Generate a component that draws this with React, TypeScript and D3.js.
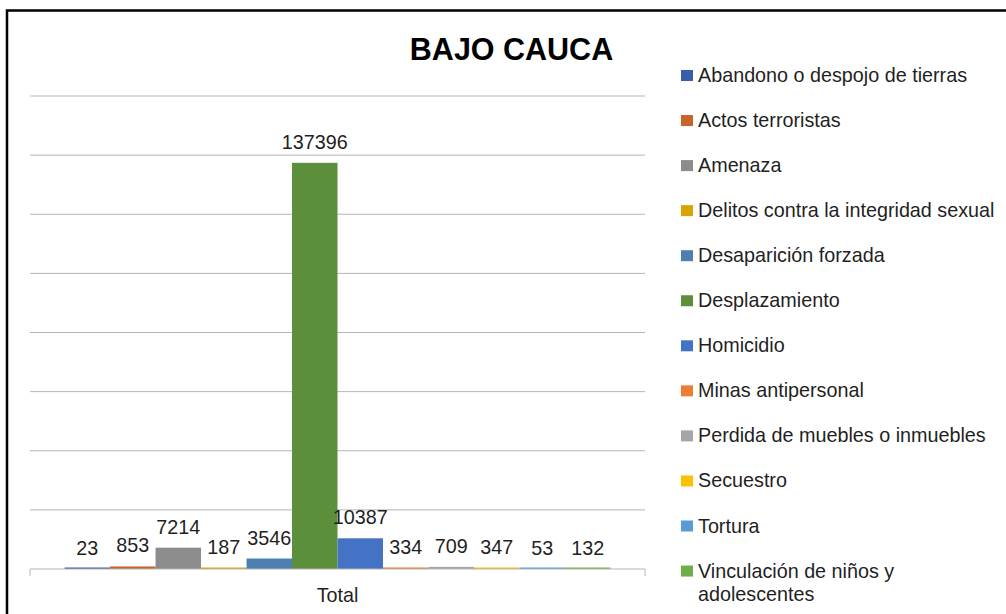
import React from "react";
import * as d3 from "d3";

// data
const categories = ["Total"];
const seriesNames = [
  "Abandono o despojo de tierras",
  "Actos terroristas",
  "Amenaza",
  "Delitos contra la integridad sexual",
  "Desaparición forzada",
  "Desplazamiento",
  "Homicidio",
  "Minas antipersonal",
  "Perdida de muebles o inmuebles",
  "Secuestro",
  "Tortura",
  "Vinculación de niños y adolescentes",
];
const values = [23, 853, 7214, 187, 3546, 137396, 10387, 334, 709, 347, 53, 132];
const colors = [
  "#3a5fa8",
  "#c8642a",
  "#8c8c8c",
  "#d9a300",
  "#4d80b0",
  "#5b8f3b",
  "#4472c4",
  "#ed7d31",
  "#a5a5a5",
  "#ffc000",
  "#5b9bd5",
  "#70ad47",
];
const gridTicks = [20000, 40000, 60000, 80000, 100000, 120000, 140000, 160000];

const W = 1006;
const H = 614;
const font = "'Liberation Sans', Arial, sans-serif";
const fs = 19.75;

const App = () => {
  // scales
  const x0 = d3.scaleBand().domain(categories).range([30, 645]);
  const x1 = d3
    .scaleBand()
    .domain(seriesNames)
    .range([0, x0.bandwidth()])
    .paddingOuter(0.76);
  const y = d3.scaleLinear().domain([0, 160000]).range([569, 96]);

  const legendY = (i) => 75.5 + i * 45.05;

  return (
    <svg
      width={W}
      height={H}
      style={{ position: "absolute", left: 0, top: 0, background: "#fff" }}
      fontFamily={font}
    >
      <rect x={0} y={0} width={W} height={H} fill="#fff" />
      <rect x={7} y={10.5} width={1010} height={620} fill="none" stroke="#000" strokeWidth={2.5} />

      {/* title */}
      <text x={511.5} y={60} textAnchor="middle" fontSize={30.5} fontWeight="bold" fill="#000">
        BAJO CAUCA
      </text>

      {/* gridlines */}
      {gridTicks.map((t) => (
        <line key={t} x1={30} x2={645} y1={y(t)} y2={y(t)} stroke="#b5b5b5" strokeWidth={1} />
      ))}

      {/* bars (tiny values still get a 1px sliver, like Excel draws them) */}
      {categories.map((c) => (
        <g key={c} transform={`translate(${x0(c)},0)`}>
          {values.map((v, i) => {
            const h = Math.max(1.5, y(0) - y(v));
            return (
              <rect
                key={i}
                x={x1(seriesNames[i])}
                y={y(0) - h}
                width={x1.bandwidth()}
                height={h}
                fill={colors[i]}
              />
            );
          })}
          {values.map((v, i) => (
            <text
              key={"l" + i}
              x={x1(seriesNames[i]) + x1.bandwidth() / 2}
              y={y(v) - 14}
              textAnchor="middle"
              fontSize={fs}
              fill="#1f1f1f"
            >
              {v}
            </text>
          ))}
        </g>
      ))}

      {/* x axis */}
      <line x1={30} x2={645} y1={569} y2={569} stroke="#b5b5b5" strokeWidth={1} />
      {[30, 645].map((tx) => (
        <line key={tx} x1={tx} x2={tx} y1={569} y2={576} stroke="#b5b5b5" strokeWidth={1} />
      ))}
      {categories.map((c) => (
        <text
          key={c}
          x={x0(c) + x0.bandwidth() / 2}
          y={601.5}
          textAnchor="middle"
          fontSize={fs}
          fill="#1f1f1f"
        >
          {c}
        </text>
      ))}

      {/* legend */}
      {seriesNames.map((s, i) => {
        const cy = legendY(i);
        const lines = s === "Vinculación de niños y adolescentes" ? ["Vinculación de niños y", "adolescentes"] : [s];
        return (
          <g key={s}>
            <rect x={681} y={cy - 5.5} width={12} height={11} fill={colors[i]} />
            <text x={698} y={cy + 6.5} fontSize={fs} fill="#1f1f1f">
              {lines.map((ln, j) => (
                <tspan key={j} x={698} dy={j === 0 ? 0 : 23.5}>
                  {ln}
                </tspan>
              ))}
            </text>
          </g>
        );
      })}
    </svg>
  );
};

export default App;
